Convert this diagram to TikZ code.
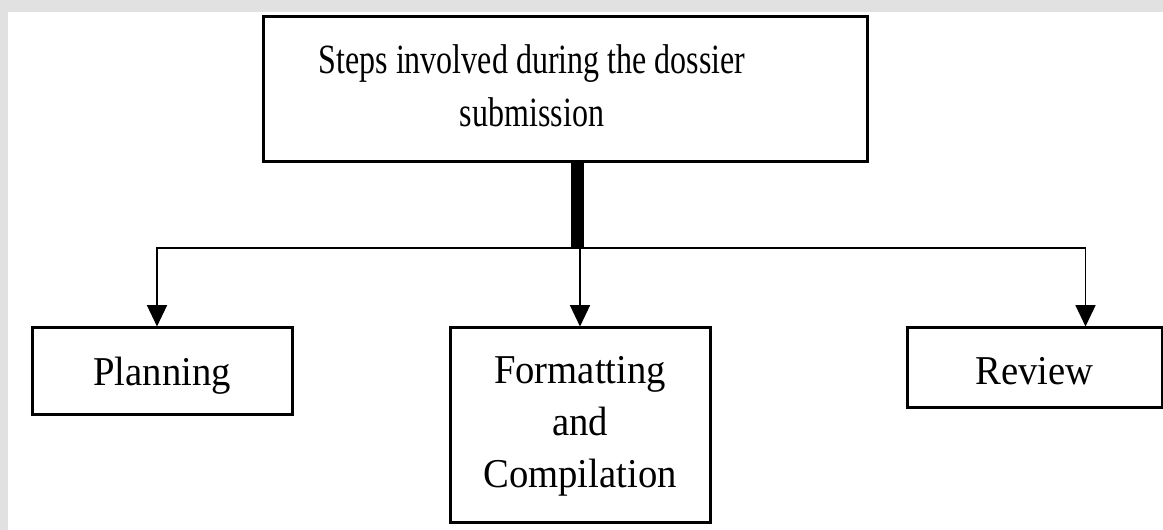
\documentclass[tikz,border=0pt]{standalone}
\usepackage{fontspec}
\setmainfont{Liberation Serif}
\usetikzlibrary{arrows.meta}

\definecolor{frame}{RGB}{225,225,225}

% text is a little taller than wide in the picture
\newcommand{\tallstack}[2][1.3]{\scalebox{1}[#1]{\begin{tabular}{@{}c@{}}#2\end{tabular}}}

\tikzset{
  stepbox/.style={draw=black, line width=2.25pt, fill=white, inner sep=0pt, align=center,
    font=\fontsize{29}{36.8}\selectfont},
  link/.style={line width=1.1pt, -{Triangle[width=15pt,length=16pt]}},
}

\begin{document}
\begin{tikzpicture}[x=0.75pt,y=0.75pt,yscale=-1,xscale=1]
\useasboundingbox (0,0) rectangle (1163,530);

%Shape: Rectangle [background]
\fill [frame] (0,0) rectangle (1163,530);
\fill [white] (8,12) rectangle (1163,530);

% Text Node
\node [stepbox, minimum width=453pt, minimum height=108.75pt,
  font=\fontsize{24}{30.5}\selectfont] (title) at (565,89.5)
  {\tallstack{Steps involved during the dossier\\submission}\hspace{49.5pt}};
% Text Node
\node [stepbox, minimum width=195pt, minimum height=65.25pt,
  text height=25pt, text depth=3.25pt] (plan) at (162,371.5) {\scalebox{1}[1.06]{Planning}};
% Text Node
\node [stepbox, minimum width=195pt, minimum height=145.5pt] (format) at (580,425)
  {\tallstack[1.06]{Formatting\\and\\Compilation}};
% Text Node
\node [stepbox, minimum width=191.25pt, minimum height=60pt,
  text height=26pt, text depth=0.5pt] (review) at (1034.5,368) {\scalebox{1}[1.06]{Review}};

%Straight Lines [thick bar]
\coordinate (hub) at (577,248);
\draw [line width=9.75pt] (title.south -| hub) -- (hub);
%Straight Lines [branches]
\draw [link] (hub) -| ([xshift=-3.75pt]plan.north);
\draw [link] (hub) -- (hub -| format.north) -- (format.north);
\draw [link] (hub) -| ([xshift=38.25pt]review.north);

\end{tikzpicture}
\end{document}
